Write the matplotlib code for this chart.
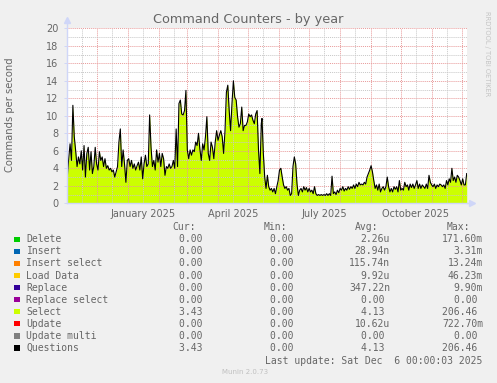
import numpy as np
import pandas as pd
import matplotlib
matplotlib.use("Agg")
import matplotlib.pyplot as plt
import matplotlib.dates as mdates
from matplotlib.patches import Rectangle
from matplotlib.ticker import MultipleLocator, FuncFormatter

# daily-ish Select rate (commands/s), Nov 2024 -> mid May 2025
select_early = [3.0, 5.1, 6.8, 4.9, 11.2, 7.6, 6.0, 4.2, 5.3, 4.5,
                6.0, 3.8, 6.6, 3.0, 5.7, 6.4, 3.8, 5.9, 3.4, 4.2,
                6.4, 4.5, 3.8, 5.9, 4.9, 5.3, 4.2, 5.1, 4.0, 4.3,
                3.8, 4.0, 3.6, 3.8, 3.0, 3.6, 4.2, 7.0, 8.5, 4.2,
                6.1, 4.5, 2.4, 4.9, 5.1, 4.2, 4.9, 4.0, 4.5, 3.8,
                4.3, 4.7, 3.8, 5.3, 2.8, 4.5, 5.5, 4.2, 4.5, 10.1,
                6.4, 4.2, 4.9, 3.8, 6.1, 4.7, 5.7, 4.2, 5.7, 5.1,
                3.2, 4.2, 4.0, 4.5, 4.0, 4.2, 4.9, 4.0, 8.5, 4.2,
                11.4, 11.8, 10.2, 10.1, 10.6, 12.9, 6.1, 5.1, 6.1, 5.5,
                6.1, 5.9, 7.0, 6.6, 8.0, 6.2, 4.9, 6.8, 6.1, 7.6,
                9.9, 5.7, 4.9, 7.0, 6.4, 5.1, 7.0, 8.3, 7.2, 7.8,
                8.3, 7.6, 5.7, 8.3, 12.7, 13.5, 10.6, 8.3, 11.4, 14.0,
                12.1, 11.8, 9.9, 8.7, 9.1, 11.0, 8.3, 8.9, 8.9, 9.3,
                10.2, 9.9, 10.1, 9.5, 9.1, 10.2, 10.6, 6.1, 3.4, 9.1]
early_span = ("2024-11-01 07:00", "2025-05-14 07:00")

# mid May 2025 -> 6 Dec 2025
select_late = [9.7, 5.7, 3.0, 1.7, 3.2, 1.9, 1.5, 1.7, 1.3, 1.7,
               1.1, 1.9, 2.6, 3.8, 4.0, 3.0, 2.1, 1.7, 1.9, 1.5,
               1.7, 0.9, 1.1, 4.2, 5.3, 4.5, 2.2, 0.9, 1.5, 1.7,
               1.3, 1.9, 1.5, 1.8, 1.3, 1.7, 1.3, 1.5, 1.1, 1.9,
               1.1, 0.9, 1.0, 0.9, 1.0, 0.9, 1.0, 0.9, 1.1, 0.9,
               1.1, 0.9, 3.1, 1.1, 1.3, 1.0, 1.5, 1.2, 1.7, 1.5,
               1.9, 1.4, 1.7, 1.5, 1.9, 1.6, 1.9, 1.7, 2.1, 1.7,
               2.2, 1.9, 2.4, 2.1, 2.2, 2.1, 2.4, 2.2, 3.0, 3.4,
               3.8, 4.3, 3.6, 2.6, 1.7, 2.1, 1.5, 2.2, 1.3, 1.7,
               1.9, 1.5, 1.9, 3.0, 1.9, 1.3, 1.7, 1.3, 1.9, 1.6,
               1.9, 1.3, 2.6, 1.5, 1.7, 1.5, 2.4, 1.9, 2.1, 1.5,
               2.2, 1.8, 2.2, 1.7, 2.1, 2.6, 1.7, 2.2, 1.7, 2.1,
               1.9, 1.7, 2.2, 1.7, 3.2, 2.4, 2.1, 1.9, 2.2, 1.7,
               2.1, 1.9, 2.2, 2.1, 1.9, 2.1, 1.7, 2.6, 2.1, 2.8,
               2.4, 4.0, 2.6, 3.0, 2.4, 3.2, 3.0, 2.6, 2.1, 2.8,
               2.1, 2.1, 3.4]
late_span = ("2025-05-15 00:00", "2025-12-05 17:00")

window = ("2024-11-01", "2025-12-06")

names = ["Delete", "Insert", "Insert select", "Load Data", "Replace",
         "Replace select", "Select", "Update", "Update multi", "Questions"]
colors = ["#00cc00", "#0066b3", "#ff8000", "#ffcc00", "#330099",
          "#990099", "#ccff00", "#ff0000", "#808080", "#000000"]
cur = ["0.00 ", "0.00 ", "0.00 ", "0.00 ", "0.00 ", "0.00 ", "3.43 ", "0.00 ", "0.00 ", "3.43 "]
mins = ["0.00 "] * 10
avgs = ["2.26u", "28.94n", "115.74n", "9.92u", "347.22n", "0.00 ", "4.13 ", "10.62u", "0.00 ", "4.13 "]
maxs = ["171.60m", "3.31m", "13.24m", "46.23m", "9.90m", "0.00 ", "206.46 ", "722.70m", "0.00 ", "206.46 "]

W, H = 497, 383
FONT = "#666666"
AXIS = "#cfd6f8"


def px(x, y):
    return x / W, 1 - y / H


t_early = pd.to_datetime(np.linspace(pd.Timestamp(early_span[0]).value,
                                     pd.Timestamp(early_span[1]).value, len(select_early)))
t_late = pd.to_datetime(np.linspace(pd.Timestamp(late_span[0]).value,
                                    pd.Timestamp(late_span[1]).value, len(select_late)))
t = np.concatenate([t_early.to_numpy(), t_late.to_numpy()])
vals = np.array(select_early + select_late)

fig = plt.figure(figsize=(W / 100, H / 100), dpi=100, facecolor="#f0f0f0")
ax = fig.add_axes([67 / W, (H - 203.3) / H, 400 / W, 175 / H], facecolor="white")

ax.fill_between(t, 0, vals, color="#ccff00", lw=0, zorder=1)
ax.plot(t, vals, color="black", lw=0.8, zorder=4)

ax.set_xlim(pd.Timestamp(window[0]), pd.Timestamp(window[1]))
ax.set_ylim(0, 20)

# grid: red at majors, grey at minors, drawn above the area
ax.xaxis.set_major_locator(mdates.MonthLocator(bymonthday=1))
ax.xaxis.set_minor_locator(mdates.MonthLocator(bymonthday=16))
ax.xaxis.set_major_formatter(FuncFormatter(lambda v, p: ""))


def month_label(v, p):
    d = mdates.num2date(v)
    return d.strftime("%B %Y") if d.month in (1, 4, 7, 10) else ""


ax.xaxis.set_minor_formatter(FuncFormatter(month_label))
ax.yaxis.set_major_locator(MultipleLocator(2))
ax.yaxis.set_minor_locator(MultipleLocator(1))
ax.set_axisbelow(False)
ax.grid(which="minor", color="#c8c8c8", lw=0.7, ls=(0, (1, 1)), zorder=2)
ax.grid(which="major", color="#e89a9a", lw=0.7, ls=(0, (1, 1)), zorder=3)

ax.tick_params(axis="x", which="both", length=0, pad=4, labelsize=7, labelcolor=FONT)
ax.tick_params(axis="y", which="major", length=2, width=0.7, color=AXIS, pad=4,
               labelsize=7, labelcolor=FONT)
ax.tick_params(axis="y", which="minor", length=0)

for s in ["top", "right"]:
    ax.spines[s].set_visible(False)
for s in ["left", "bottom"]:
    ax.spines[s].set_color(AXIS)
    ax.spines[s].set_linewidth(1)
    ax.spines[s].set_zorder(5)
ax.spines["left"].set_bounds(0, 20.5)
ax.plot([0], [1.045], marker="^", ms=4, color=AXIS, transform=ax.transAxes, clip_on=False)
ax.plot([1.012], [0], marker=">", ms=4, color=AXIS, transform=ax.transAxes, clip_on=False)
ax.plot([1.0, 1.012], [0, 0], color=AXIS, lw=1, transform=ax.transAxes, clip_on=False)

fig.text(*px(248.5, 19.5), "Command Counters - by year", ha="center", va="center",
         fontsize=9.3, color=FONT)
fig.text(*px(10, 115), "Commands per second", rotation=90, ha="center", va="center",
         fontsize=7.2, color=FONT)
fig.text(*px(487.5, 54), "RRDTOOL / TOBI OETIKER", rotation=270, ha="center", va="center",
         fontsize=4.8, color="#c4c4c4")

mono = "DejaVu Sans Mono"
fs = 7.05
fig.text(*px(172, 227.5), "Cur:", family=mono, fontsize=fs, color=FONT, va="center")
fig.text(*px(264, 227.5), "Min:", family=mono, fontsize=fs, color=FONT, va="center")
fig.text(*px(355, 227.5), "Avg:", family=mono, fontsize=fs, color=FONT, va="center")
fig.text(*px(447, 227.5), "Max:", family=mono, fontsize=fs, color=FONT, va="center")

for i, name in enumerate(names):
    y = 239.4 + i * 12.05
    fig.patches.append(Rectangle(px(14, y + 2.7), 5.5 / W, 5.5 / H, transform=fig.transFigure,
                                 facecolor=colors[i], edgecolor="none"))
    fig.text(*px(26.5, y), name, family=mono, fontsize=fs, color=FONT, va="center")
    fig.text(*px(208, y), cur[i], family=mono, fontsize=fs, color=FONT, va="center", ha="right")
    fig.text(*px(299, y), mins[i], family=mono, fontsize=fs, color=FONT, va="center", ha="right")
    fig.text(*px(390, y), avgs[i], family=mono, fontsize=fs, color=FONT, va="center", ha="right")
    fig.text(*px(483, y), maxs[i], family=mono, fontsize=fs, color=FONT, va="center", ha="right")

fig.text(*px(482.5, 361), "Last update: Sat Dec  6 00:00:03 2025", family=mono, fontsize=fs,
         color=FONT, va="center", ha="right")
fig.text(*px(222.5, 372.5), "Munin 2.0.73", fontsize=5, color="#c0c0c0", va="center")

fig.savefig("out.png", dpi=100, facecolor=fig.get_facecolor())
